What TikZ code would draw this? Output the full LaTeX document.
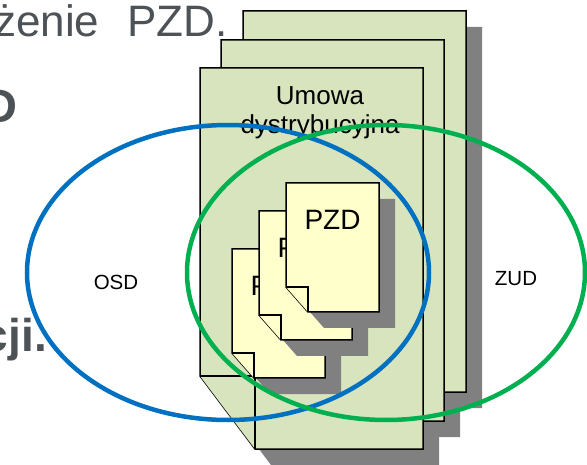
\documentclass[tikz,border=0pt]{standalone}
\usepackage{fontspec}
\setmainfont{Liberation Sans}
\usepackage{tikz}
\usetikzlibrary{positioning}
\usepackage{xcolor}

\definecolor{umowagreen}{HTML}{D7E4BD}
\definecolor{pzdyellow}{HTML}{FFFFCC}
\definecolor{osdblue}{HTML}{0070C0}
\definecolor{zudgreen}{HTML}{00B050}
\definecolor{slidegray}{RGB}{77,82,87}
\definecolor{shadowgray}{HTML}{808080}

% style, x, y, width, height, fold width, fold height
\newcommand{\docsheet}[7]{%
    \filldraw[#1] (#2,#3) -- ++(#4,0) -- ++(0,#5) -- ++({#6-#4},0) -- ++(-#6,-#7) -- cycle;
    \draw[#1] (#2,{#3+#5-#7}) -- ++(#6,0) -- ++(0,#7);
}
\newcommand{\docshadow}[6]{%
    \fill[shadowgray] ({#1+16},{#2+16}) -- ++(#3,0) -- ++(0,#4) -- ++({#5-#3},0) -- ++(-#5,-#6) -- cycle;
}

\begin{document}
\begin{tikzpicture}[
    x=1pt, y=-1pt,
    sheet/.style={draw=black, line width=1.5pt},
    umowa/.style={sheet, fill=umowagreen},
    pzd/.style={sheet, fill=pzdyellow},
    ring/.style={line width=4.5pt},
    slidetext/.style={inner sep=0pt, text=slidegray},
    doctext/.style={inner sep=0pt, text=black},
    tag/.style={inner sep=0pt, font=\fontsize{20.5}{24}\selectfont}
]

    \useasboundingbox (0,0) rectangle (587,465);
    \clip (0,0) rectangle (587,465);

    \node [slidetext, anchor=base west, font=\fontsize{44}{50}\selectfont] (line1) at (-6,37) {żenie\hspace{28pt}PZD.};
    \node [slidetext, anchor=base east, font=\fontsize{47}{54}\selectfont\bfseries] (line2) at (17.5,123) {D};
    \node [slidetext, anchor=base east, font=\fontsize{46}{52}\selectfont\bfseries] (line3) at (47,352) {cji.};

    % umowy dystrybucyjne
    \foreach \x/\y in {243/11, 221/40, 200/68} {
        \docshadow{\x}{\y}{223}{381}{55}{73}
    }
    \foreach \x/\y in {243/11, 221/40, 200/68} {
        \docsheet{umowa}{\x}{\y}{223}{381}{55}{73}
    }

    \node [doctext, anchor=north, align=center, font=\fontsize{26}{29}\selectfont] (umowa) at (320,86) {Umowa\\dystrybucyjna};

    % PZD
    \foreach \x/\y [count=\i] in {232/249, 259/211, 286/183} {
        \docshadow{\x}{\y}{93}{129}{22}{25}
        \docsheet{pzd}{\x}{\y}{93}{129}{22}{25}
        \node [doctext, font=\fontsize{28}{32}\selectfont] (pzd\i) at (\x+46.5,\y+37) {PZD};
    }

    \coordinate (osdc) at (228,272.5);
    \coordinate (zudc) at (386,272.5);
    \draw [ring, osdblue] (osdc) ellipse [x radius=201pt, y radius=147.5pt];
    \draw [ring, zudgreen] (zudc) ellipse [x radius=199pt, y radius=147.5pt];

    \node [tag] (osd) at (116,282) {OSD};
    \node [tag] (zud) at (516,278.5) {ZUD};

\end{tikzpicture}
\end{document}
